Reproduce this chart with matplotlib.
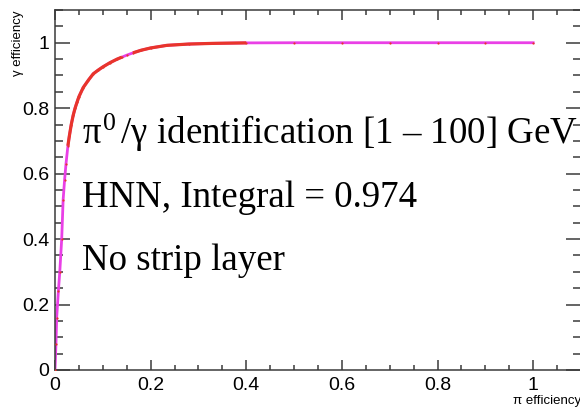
import matplotlib
matplotlib.use("Agg")
import matplotlib.pyplot as plt
from matplotlib.ticker import MultipleLocator

plt.rcParams['mathtext.fontset'] = 'custom'
plt.rcParams['mathtext.rm'] = 'Liberation Serif'
plt.rcParams['mathtext.it'] = 'Liberation Serif'

# ROC curve: pi efficiency (x) vs gamma efficiency (y)
pi_eff = [0.0, 0.002, 0.0035, 0.007, 0.010, 0.014, 0.017, 0.020, 0.023, 0.027,
          0.030, 0.034, 0.038, 0.042, 0.046, 0.050, 0.059, 0.070, 0.080, 0.090,
          0.100, 0.115, 0.130, 0.140, 0.150, 0.163, 0.180, 0.200, 0.234, 0.280,
          0.330, 0.400, 0.500, 0.600, 0.700, 0.800, 0.900, 1.000]
gamma_eff = [0.0, 0.08, 0.16, 0.24, 0.30, 0.40, 0.52, 0.58, 0.63, 0.685,
             0.715, 0.75, 0.778, 0.80, 0.818, 0.835, 0.863, 0.886, 0.905, 0.916,
             0.926, 0.939, 0.950, 0.956, 0.962, 0.969, 0.977, 0.984, 0.992, 0.996,
             0.998, 0.9995, 1.0, 1.0, 1.0, 1.0, 1.0, 1.0]

x_ticks = [0, 0.2, 0.4, 0.6, 0.8, 1]
x_tick_labels = ["0", "0.2", "0.4", "0.6", "0.8", "1"]
y_ticks = [0, 0.2, 0.4, 0.6, 0.8, 1]
y_tick_labels = ["0", "0.2", "0.4", "0.6", "0.8", "1"]

title_line = r"$\pi^{0}\,$/γ identification [1 – 100] GeV"
method_line = "HNN, Integral = 0.974"
config_line = "No strip layer"

fig = plt.figure(figsize=(5.80, 4.09), dpi=100)
ax = fig.add_axes([55 / 580, 39 / 409, 526 / 580, 360 / 409])

magenta = "#e940e6"
red = "#e8352b"
ax.plot(pi_eff, gamma_eff, color=magenta, lw=2.0, zorder=2)
# dense red segments over the bend of the curve
ax.plot(pi_eff[9:24], gamma_eff[9:24], color=red, lw=2.3, zorder=3,
        solid_capstyle="butt", solid_joinstyle="round")
ax.plot(pi_eff[25:32], gamma_eff[25:32], color=red, lw=2.3, zorder=3,
        solid_capstyle="butt", solid_joinstyle="round")
ax.plot(pi_eff, gamma_eff, ls="none", marker="o", ms=1.6, color=red,
        mec="none", zorder=4)

ax.set_xlim(0, 1.1)
ax.set_ylim(0, 1.1)

tick_font = dict(family=["Liberation Sans", "DejaVu Sans"], size=14)
ax.set_xticks(x_ticks)
ax.set_xticklabels(x_tick_labels, fontdict=tick_font)
ax.set_yticks(y_ticks)
ax.set_yticklabels(y_tick_labels, fontdict=tick_font)
ax.xaxis.set_minor_locator(MultipleLocator(0.05))
ax.yaxis.set_minor_locator(MultipleLocator(0.05))

edge = "#3a3a3a"
for s in ax.spines.values():
    s.set_color(edge)
    s.set_linewidth(1.1)
ax.tick_params(axis="both", which="both", direction="in", top=True, right=True,
               color=edge, width=1.1)
ax.tick_params(axis="x", which="major", length=7, pad=5)
ax.tick_params(axis="x", which="minor", length=3.6)
ax.tick_params(axis="y", which="major", length=11, pad=4)
ax.tick_params(axis="y", which="minor", length=5.5)

label_font = dict(family=["Liberation Sans", "DejaVu Sans"], size=9.5)
ax.set_xlabel("π efficiency", fontdict=label_font, loc="right", labelpad=1)
ax.set_ylabel("γ efficiency", fontdict=label_font, loc="top")
ax.yaxis.set_label_coords(-0.058, 1.0)

serif = ["Liberation Serif", "DejaVu Serif"]
for txt, yv in [(title_line, 0.692), (method_line, 0.497), (config_line, 0.305)]:
    ax.text(0.0565, yv, txt, family=serif, size=26.6, ha="left",
            va="baseline", zorder=5)

fig.savefig("out.png", dpi=100)
